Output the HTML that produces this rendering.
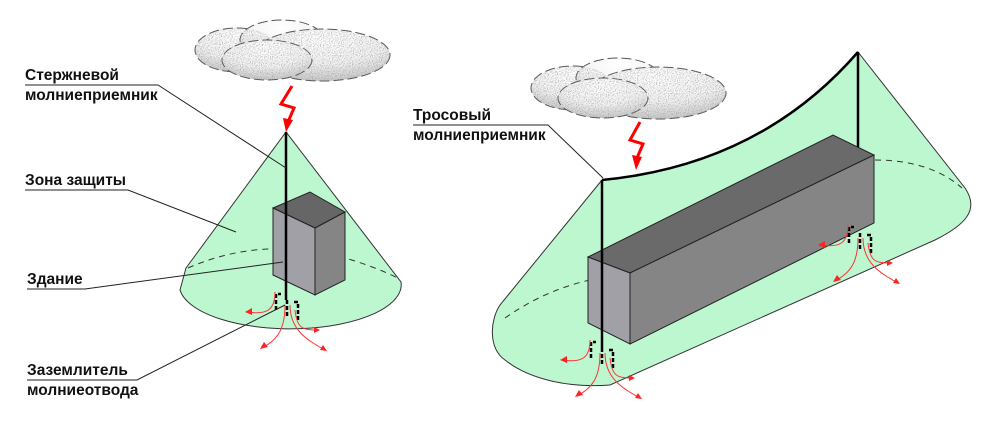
<!DOCTYPE html>
<html><head><meta charset="utf-8"><style>
body{margin:0;background:#fff}
svg{display:block}
text{font-family:"Liberation Sans",sans-serif;font-weight:bold;font-size:15.5px;fill:#111}
</style></head><body>
<svg width="1000" height="421" viewBox="0 0 1000 421" xmlns="http://www.w3.org/2000/svg">
<defs>
<filter id="spk"><feTurbulence type="fractalNoise" baseFrequency="0.9" numOctaves="1" result="n"/><feColorMatrix type="matrix" values="0 0 0 0 0.3 0 0 0 0 0.3 0 0 0 0 0.3 0 0 0 -3 1.6" in="n" result="d"/><feComposite in="d" in2="SourceGraphic" operator="in"/></filter>
<radialGradient id="cg" cx="0.5" cy="0.2" r="0.8"><stop offset="0" stop-color="#fff"/><stop offset="0.6" stop-color="#f2f2f2"/><stop offset="1" stop-color="#c8c8c8"/></radialGradient>
<g id="cloud">
<g fill="url(#cg)" stroke="#555" stroke-width="1" stroke-dasharray="10 4">
<ellipse cx="40" cy="30" rx="42" ry="22"/>
<ellipse cx="85" cy="20" rx="42" ry="20"/>
<ellipse cx="125" cy="35" rx="68" ry="26"/>
<ellipse cx="70" cy="40" rx="45" ry="20"/>
</g>
<g fill="#fff" filter="url(#spk)" opacity="0.8">
<ellipse cx="40" cy="30" rx="42" ry="22"/><ellipse cx="125" cy="35" rx="68" ry="26"/><ellipse cx="70" cy="40" rx="45" ry="20"/>
</g>
</g>
<g id="gr">
<path d="M-11,10 V-6 H-6 M0,0 V16 M7,2 H11 V20" fill="none" stroke="#000" stroke-width="2.5" stroke-dasharray="4 2"/>
<g fill="none" stroke="#f33" stroke-width="1">
<path d="M-12,-8 C-12,10 -20,15 -40,12"/>
<path d="M-2,5 C-2,30 -10,40 -25,48"/>
<path d="M3,5 C3,30 20,40 38,50"/>
<path d="M8,10 C10,28 15,30 30,30"/>
</g>
<g fill="#f22">
<path d="M-42,12 l7,-4 l0,7z"/><path d="M-27,49 l4,-7 l4,5z"/><path d="M40,51 l-7,-1 l3,-5z"/><path d="M33,30 l-6,-3 l0,6z"/>
</g>
</g>
</defs>

<!-- LEFT -->
<use href="#cloud" x="197" y="20"/>
<path d="M186,268 L286,132 L401,282 A111,44 0 0 1 180,290 Z" fill="#bdf7d0" stroke="#333" stroke-width="1"/>
<path d="M188,268 Q286,225 398,278" fill="none" stroke="#333" stroke-dasharray="6 5"/>
<polygon points="273,208 310,192 345,212 315,228" fill="#666" stroke="#222"/>
<polygon points="273,208 315,228 315,295 273,275" fill="#a0a0a6" stroke="#222"/>
<polygon points="315,228 345,212 345,280 315,295" fill="#858585" stroke="#222"/>
<line x1="286" y1="132" x2="286" y2="300" stroke="#000" stroke-width="2.5"/>
<path d="M292,86 L281,104 L294,108 L288,122" fill="none" stroke="#f00" stroke-width="3"/>
<path d="M283,118 L293,120 L286,132z" fill="#f00"/>
<use href="#gr" x="287" y="300"/>

<g stroke="#222" stroke-width="1" fill="none">
<path d="M25,85 H158 L286,168"/>
<path d="M25,190 H128 L236,232"/>
<path d="M27,289 H85 L283,262"/>
<path d="M27,380 H137 L285,305"/>
<path d="M413,125 H548 L603,178"/>
</g>
<text x="25" y="80">Стержневой</text>
<text x="25" y="100">молниеприемник</text>
<text x="25" y="185">Зона защиты</text>
<text x="27" y="284">Здание</text>
<text x="27" y="375">Заземлитель</text>
<text x="27" y="395">молниеотвода</text>
<text x="413" y="120">Тросовый</text>
<text x="413" y="140">молниеприемник</text>

<!-- RIGHT -->
<use href="#cloud" x="533" y="58"/>
<path d="M602,180 L500,305 C490,320 488,348 505,360 C530,380 570,388 610,385 L935,240 C965,225 980,210 965,188 L858,52 Q760,165 602,180 Z" fill="#bdf7d0" stroke="#333"/>
<path d="M505,318 Q545,290 590,280" fill="none" stroke="#333" stroke-dasharray="6 5"/>
<path d="M875,160 Q930,160 962,188" fill="none" stroke="#333" stroke-dasharray="6 5"/>
<path d="M602,180 Q760,165 858,52" fill="none" stroke="#000" stroke-width="2.5"/>
<line x1="858" y1="52" x2="858" y2="156" stroke="#000" stroke-width="2.5"/>
<polygon points="588,257 833,135 874,155 630,273" fill="#6a6a6a" stroke="#222"/>
<polygon points="588,257 630,273 630,344 588,323" fill="#a0a0a6" stroke="#222"/>
<polygon points="630,273 874,155 874,223 630,344" fill="#858585" stroke="#222"/>
<line x1="602" y1="180" x2="602" y2="348" stroke="#000" stroke-width="2.5"/>
<path d="M640,122 L630,140 L643,144 L637,158" fill="none" stroke="#f00" stroke-width="3"/>
<path d="M632,155 L642,157 L636,170z" fill="#f00"/>
<use href="#gr" x="602" y="348"/>
<use href="#gr" x="860" y="233"/>
</svg>
</body></html>
